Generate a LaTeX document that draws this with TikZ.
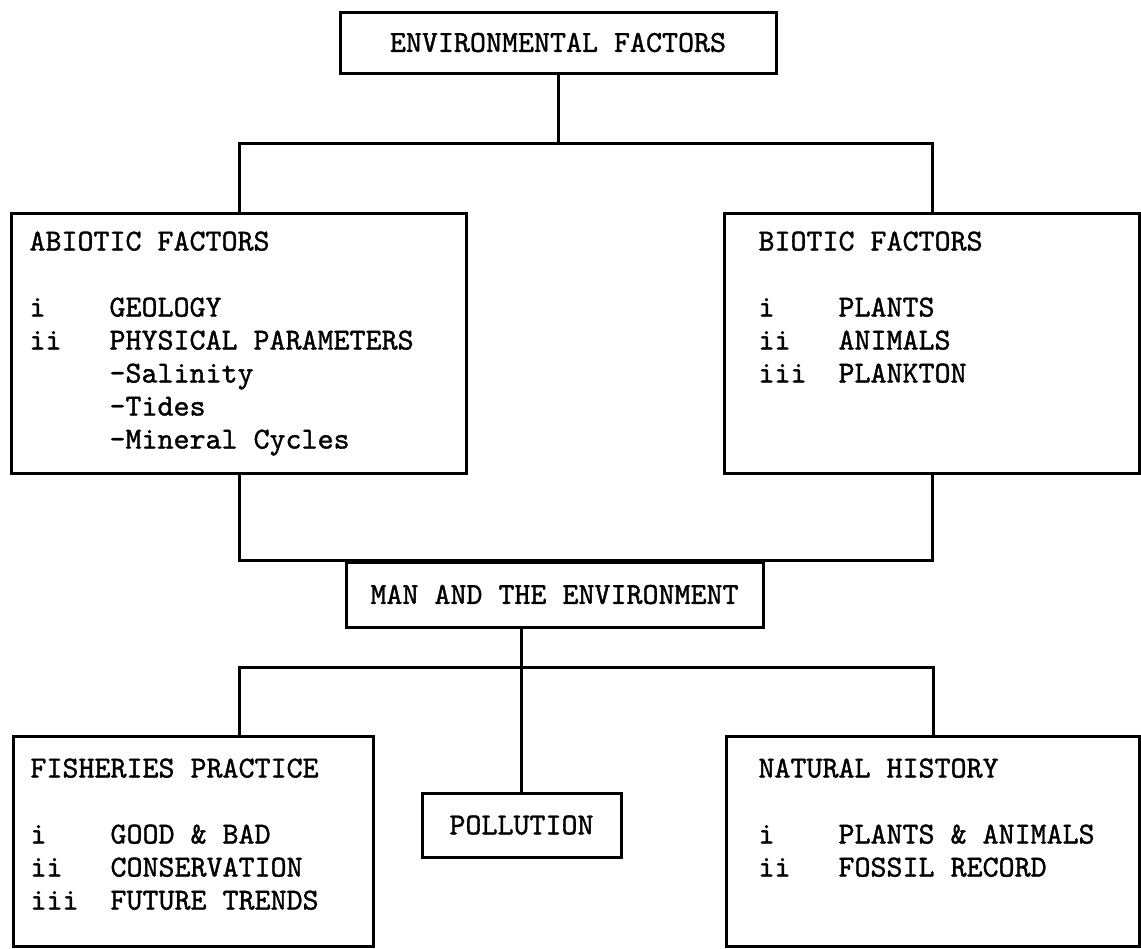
\documentclass[tikz,border=0pt]{standalone}
\usepackage{fontspec}
\usepackage{tikz}
\usetikzlibrary{calc}

\newfontfamily\typeface{lmmono10-regular.otf}[FakeBold=1.2]
\newlength\px
\setlength\px{0.025cm}
\newcommand{\entry}[2]{\makebox[2.625em][l]{#1}#2}
\newcommand{\boxtext}[3]{\begin{minipage}[t][#2][t]{#1}#3\end{minipage}}

\begin{document}
\begin{tikzpicture}[x=0.025cm, y=-0.025cm,
  every node/.style={font=\typeface\fontsize{0.762cm}{0.825cm}\selectfont},
  frame/.style={draw, line width=3\px, inner sep=0pt},
  panel/.style={frame, anchor=north west, inner ysep=18\px},
  wire/.style={line width=3\px}]

\useasboundingbox (0,0) rectangle (1141,948);

% top level
\node[frame, minimum width=436\px, minimum height=61\px] (envfac) at (558,42.5) {ENVIRONMENTAL FACTORS};

% factors
\node[panel, inner xsep=18\px] (abiotic) at (10,212) {\boxtext{419\px}{224\px}{ABIOTIC FACTORS\\[0.825cm]
  \entry{i}{GEOLOGY}\\
  \entry{ii}{PHYSICAL PARAMETERS}\\
  \entry{}{-Salinity}\\
  \entry{}{-Tides}\\
  \entry{}{-Mineral Cycles}}};
\node[panel, inner xsep=34\px] (biotic) at (723,212) {\boxtext{347\px}{224\px}{BIOTIC FACTORS\\[0.825cm]
  \entry{i}{PLANTS}\\
  \entry{ii}{ANIMALS}\\
  \entry{iii}{PLANKTON}}};

\node[frame, minimum width=417\px, minimum height=65\px] (man) at (554.5,594.5) {MAN AND THE ENVIRONMENT};

% bottom row
\node[panel, inner xsep=17\px, inner ysep=22\px] (fisheries) at (12,735) {\boxtext{326\px}{166\px}{FISHERIES PRACTICE\\[0.825cm]
  \entry{i}{GOOD \& BAD}\\
  \entry{ii}{CONSERVATION}\\
  \entry{iii}{FUTURE TRENDS}}};
\node[frame, minimum width=199\px, minimum height=64\px] (pollution) at (521.5,825) {POLLUTION};
\node[panel, inner xsep=32\px, inner ysep=22\px] (nathist) at (725,735) {\boxtext{349\px}{166\px}{NATURAL HISTORY\\[0.825cm]
  \entry{i}{PLANTS \& ANIMALS}\\
  \entry{ii}{FOSSIL RECORD}}};

\coordinate (j1) at (558,143);
\coordinate (j2) at (521.5,667);

\draw[wire] (envfac) -- (j1);
\draw[wire] (abiotic.north) |- (j1) -| (biotic.north);
\draw[wire] (abiotic.south) |- (man.north) -| (biotic.south);
\draw[wire] (pollution.north |- man.south) -- (pollution.north);
\draw[wire] (fisheries.north -| abiotic.south) |- (j2) -| (nathist.north);

\end{tikzpicture}
\end{document}
